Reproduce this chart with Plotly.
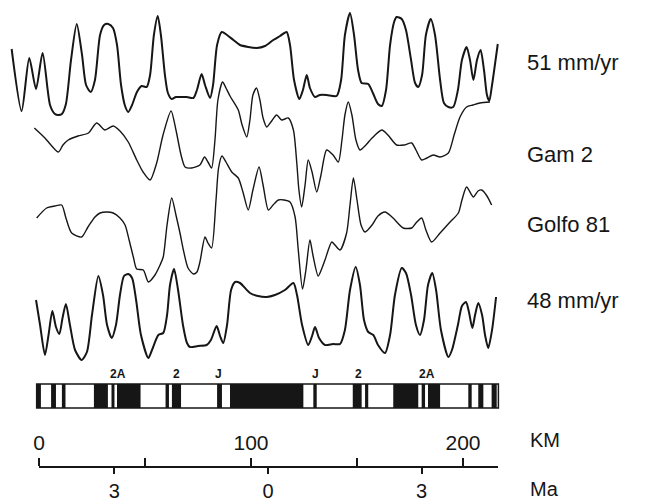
import plotly.graph_objects as go

# ---------------- data (distance in km, anomaly in relative units) ----------------
KM_51 = [-12.9, -8.2, -4.6, -1.4, 1.7, 5.2, 7.5, 9.1, 10.8, 12.7, 15.1, 17.8, 20.3, 22.2, 24.4,
         26.4, 28.8, 30.7, 32.7, 34.9, 36.8, 38.7, 40.6, 42.1, 43.9, 46.2, 48.4, 50.8, 52.4, 54.2,
         56.0, 57.5, 59.4, 60.8, 62.6, 64.6, 67.3, 69.8, 72.8, 74.5, 76.7, 78.3, 80.7, 82.1, 84.0,
         86.2, 88.7, 91.7, 94.8, 98.7, 102.7, 106.6, 110.5, 113.7, 116.8, 118.4, 120.3, 122.8,
         124.5, 126.3, 127.8, 130.2, 132.5, 135.7, 140.4, 142.5, 144.3, 146.7, 148.6, 150.5, 152.2,
         155.3, 157.5, 159.9, 161.7, 163.7, 165.6, 167.5, 168.7, 171.1, 173.1, 175.5, 177.4, 178.9,
         180.7, 182.5, 184.8, 186.8, 189.2, 191.0, 193.1, 195.4, 197.6, 199.5, 201.7, 203.3, 204.9,
         206.6, 208.3, 209.9, 211.3, 212.4, 213.7, 216.4]
VAL_51 = [71, 9, 62, 31, 67, 15, 6, 5, 6, 16, 60, 96, 65, 35, 28,
          40, 85, 95, 96, 92, 75, 35, 14, 8, 15, 28, 34, 33, 45, 85,
          104, 85, 45, 27, 21, 23, 23, 23, 22, 30, 46, 35, 22, 35, 75,
          88, 85, 80, 75, 73, 72, 74, 80, 84, 88, 75, 40, 21,
          30, 45, 32, 23, 25, 25, 24, 40, 85, 107, 85, 50, 37,
          36, 27, 16, 14, 30, 75, 98, 103, 101, 90, 60, 37, 33,
          45, 85, 101, 85, 40, 17, 13, 13, 30, 60, 73, 60, 40,
          60, 70, 50, 25, 19, 35, 76]

KM_GAM = [-2.2, 2.8, 9.1, 11.3, 13.8, 18.4, 23.3, 27.2, 31.1, 35.0, 38.2, 42.1, 46.1, 49.1, 52.4,
          55.5, 58.5, 62.3, 64.6, 67.0, 68.9, 72.0, 75.9, 78.1, 79.7, 81.4, 83.0, 84.4, 86.6, 88.2,
          90.1, 94.0, 95.8, 98.0, 99.5, 100.9, 102.6, 104.2, 105.7, 107.4, 109.4, 112.1, 114.5,
          117.6, 120.0, 121.6, 122.6, 123.9, 125.5, 127.0, 128.8, 131.0, 133.0, 135.7, 138.7,
          141.2, 142.9, 144.3, 145.9, 147.6, 149.5, 151.4, 154.2, 157.1, 161.7, 164.6, 168.7,
          172.2, 175.8, 177.8, 180.5, 183.0, 186.0, 189.2, 193.1, 195.8, 198.6, 201.7, 204.7,
          208.0, 212.7]
VAL_GAM = [87, 77, 63, 70, 75, 79, 82, 92, 85, 89, 84, 73, 55, 43, 35,
           52, 80, 104, 85, 60, 48, 47, 50, 58, 53, 47, 75, 115, 133, 127,
           119, 105, 90, 78, 95, 120, 127, 115, 97, 88, 93, 100, 95,
           97, 85, 52, 25, 8, 30, 55, 43, 23, 40, 65, 60,
           53, 75, 100, 113, 100, 75, 65, 70, 77, 85, 80, 70,
           70, 72, 65, 55, 57, 60, 58, 62, 80, 98, 108, 110,
           112, 113]

KM_GOLFO = [-1.1, 3.6, 7.5, 10.7, 12.7, 15.4, 20.1, 23.1, 26.4, 28.8, 32.1, 35.0, 38.2, 40.6, 42.5,
            44.5, 46.1, 49.2, 51.6, 54.7, 57.1, 58.6, 60.4, 62.6, 64.6, 66.5, 68.1, 70.3, 72.8,
            74.5, 75.9, 78.3, 79.7, 81.4, 83.5, 84.7, 86.3, 88.2, 90.9, 94.0, 96.2, 98.7, 100.9,
            103.8, 105.7, 108.2, 110.4, 112.9, 115.6, 118.4, 120.8, 122.3, 124.3, 125.9, 127.8,
            129.2, 131.7, 133.5, 134.9, 138.1, 139.6, 142.0, 145.1, 146.7, 148.3, 150.0, 151.9,
            153.8, 157.1, 159.9, 163.2, 167.0, 171.8, 175.8, 177.8, 180.5, 182.5, 185.2, 189.2,
            193.9, 197.8, 199.5, 201.7, 204.9, 207.1, 208.8, 211.3, 213.5]
VAL_GOLFO = [82, 92, 94, 95, 82, 67, 63, 73, 83, 87, 88, 87, 82, 75, 60,
             43, 31, 30, 18, 25, 35, 43, 75, 102, 85, 67, 50, 32, 26,
             28, 38, 63, 57, 52, 100, 132, 144, 138, 128, 122, 108, 90, 110,
             133, 115, 90, 95, 100, 100, 98, 83, 50, 11, 30, 60,
             45, 24, 32, 40, 58, 55, 50, 67, 95, 122, 100, 75,
             68, 75, 84, 88, 82, 72, 72, 77, 82, 70, 58, 67,
             78, 87, 100, 113, 103, 109, 110, 104, 95]

KM_48 = [-1.4, 0.5, 2.8, 4.5, 6.3, 8.0, 9.6, 11.1, 12.7, 14.6, 17.0, 20.1, 22.6, 25.0, 28.0,
         30.2, 32.1, 34.3, 36.3, 38.2, 40.1, 42.1, 43.9, 45.8, 48.1, 51.6, 53.3, 56.3, 58.6,
         60.4, 61.8, 63.7, 65.6, 67.9, 69.8, 71.2, 75.0, 79.1, 81.1, 83.8, 85.4, 86.9, 88.7,
         90.6, 92.5, 94.8, 99.5, 103.3, 107.4, 111.3, 116.0, 120.0, 121.7, 124.1, 127.0, 128.8,
         130.2, 132.1, 134.9, 138.7, 142.0, 144.3, 146.7, 149.4, 151.4, 153.3, 155.3, 157.7,
         159.9, 163.2, 165.6, 167.9, 171.1, 173.1, 175.5, 177.8, 179.7, 181.6, 183.5, 185.5,
         187.3, 189.6, 193.1, 194.8, 197.6, 199.5, 201.4, 202.8, 204.4, 205.7, 207.2, 209.0,
         210.4, 211.9, 213.7, 215.6]
VAL_48 = [65, 40, 10, 30, 54, 38, 31, 47, 61, 40, 15, 5, 13, 50, 89,
          70, 40, 27, 40, 70, 89, 91, 87, 65, 30, 7, 15, 30, 32,
          50, 80, 96, 75, 40, 22, 18, 19, 20, 25, 39, 29, 22, 40,
          75, 83, 82, 72, 69, 68, 70, 75, 82, 70, 40, 20, 29,
          38, 27, 20, 21, 21, 35, 75, 98, 80, 45, 33, 30,
          20, 12, 30, 70, 97, 92, 70, 40, 30, 45, 80, 92,
          75, 35, 8, 15, 40, 59, 63, 53, 37, 50, 62, 50,
          30, 17, 35, 68]

# normal-polarity blocks of the model (km)
NORMAL_START = [-1.1, 5.7, 10.8, 25.9, 34.2, 36.8, 59.7, 62.7, 84.0, 90.1, 129.4, 148.0, 153.8,
                167.1, 180.5, 183.5, 202.5, 207.2, 213.5]
NORMAL_END = [0.9, 8.0, 12.5, 32.5, 35.6, 47.9, 61.3, 67.0, 86.3, 124.7, 131.0, 152.2, 155.3,
              178.9, 182.1, 189.2, 204.1, 209.6, 215.9]
BAR_EXTENT_KM = [-1.1, 216.7]

CHRON_LABELS = ["2A", "2", "J", "J", "2", "2A"]
CHRON_KM = [37.3, 65.0, 84.6, 130.2, 150.6, 182.9]

KM_TICKS = [0, 50, 100, 150, 200]
KM_TICK_TEXT = ["0", "", "100", "", "200"]
MA_TICKS = [-3, 0, 3]
MA_TICK_TEXT = ["3", "0", "3"]

PROFILE_NAMES = ["51 mm/yr", "Gam 2", "Golfo 81", "48 mm/yr"]

# ---------------- figure ----------------
W, H = 662, 502
INK = "#161616"
FONT = "Liberation Sans, Arial, Helvetica, sans-serif"

fig = go.Figure()

profiles = [(KM_51, VAL_51, "y", 2.0), (KM_GAM, VAL_GAM, "y2", 1.4),
            (KM_GOLFO, VAL_GOLFO, "y3", 1.4), (KM_48, VAL_48, "y4", 2.0)]
for (xs, ys, ax, lw), name in zip(profiles, PROFILE_NAMES):
    fig.add_trace(go.Scatter(x=xs, y=ys, mode="lines", yaxis=ax, name=name,
                             line=dict(color=INK, width=lw, shape="spline", smoothing=0.7),
                             hoverinfo="skip"))

widths = [e - s for s, e in zip(NORMAL_START, NORMAL_END)]
fig.add_trace(go.Bar(x=widths, base=NORMAL_START, y=[0] * len(widths), orientation="h",
                     yaxis="y5", width=1, marker=dict(color=INK, line=dict(width=0)),
                     hoverinfo="skip"))

fig.add_shape(type="rect", xref="x", yref="y5", x0=BAR_EXTENT_KM[0], x1=BAR_EXTENT_KM[1],
              y0=-0.5, y1=0.5, line=dict(color=INK, width=1.5), fillcolor="rgba(0,0,0,0)")

for lab, xk in zip(CHRON_LABELS, CHRON_KM):
    fig.add_annotation(x=xk, xref="x", y=(H - 374) / H, yref="paper", text="<b>%s</b>" % lab,
                       xanchor="center", yanchor="middle", showarrow=False,
                       font=dict(family=FONT, size=12, color=INK))

label_y = [62, 155, 224, 300]
for name, py in zip(PROFILE_NAMES, label_y):
    fig.add_annotation(x=525 / W, xref="paper", y=(H - py) / H, yref="paper", text=name,
                       xanchor="left", yanchor="middle", showarrow=False,
                       font=dict(family=FONT, size=22, color=INK))
fig.add_annotation(x=528 / W, xref="paper", y=(H - 440) / H, yref="paper", text="KM",
                   xanchor="left", yanchor="middle", showarrow=False,
                   font=dict(family=FONT, size=20, color=INK))
fig.add_annotation(x=528 / W, xref="paper", y=(H - 489) / H, yref="paper", text="Ma",
                   xanchor="left", yanchor="middle", showarrow=False,
                   font=dict(family=FONT, size=20, color=INK))

x_lo = -39 / 2.12
x_hi = x_lo + W / 2.12
line_pos = (H - 467) / H
dom = [39 / W, 498 / W]
ma_px = 51.2

hidden = dict(visible=False, showgrid=False, zeroline=False, fixedrange=True)
bases = {"yaxis": 120, "yaxis2": 215, "yaxis3": 300, "yaxis4": 365}

layout = dict(
    width=W, height=H, margin=dict(l=0, r=0, t=0, b=0, pad=0, autoexpand=False),
    paper_bgcolor="white", plot_bgcolor="rgba(0,0,0,0)", showlegend=False, barmode="overlay",
    font=dict(family=FONT, color=INK),
    xaxis=dict(range=[x_lo, x_hi], domain=[0, 1], **hidden),
    xaxis2=dict(anchor="free", position=line_pos, side="top", domain=dom, automargin=False,
                range=[0, (498 - 39) / 2.12], showline=True, linecolor=INK, linewidth=1.5,
                ticks="outside", ticklen=8, tickwidth=1.5, tickcolor=INK,
                tickvals=KM_TICKS, ticktext=KM_TICK_TEXT, tickfont=dict(size=21, color=INK),
                showgrid=False, zeroline=False, fixedrange=True),
    xaxis3=dict(anchor="free", position=line_pos, side="bottom", domain=dom, automargin=False,
                range=[(39 - 268) / ma_px, (498 - 268) / ma_px], showline=False,
                ticks="outside", ticklen=6, tickwidth=1.5, tickcolor=INK,
                tickvals=MA_TICKS, ticktext=MA_TICK_TEXT, tickfont=dict(size=20, color=INK),
                showgrid=False, zeroline=False, fixedrange=True),
)
# bar axis: 1 unit = 24 px, centre band spans pixels 384-408
layout["yaxis5"] = dict(overlaying="y", range=[0.5 + 384 / 24.0 - H / 24.0, 0.5 + 384 / 24.0],
                        **hidden)
for k, b in bases.items():
    d = dict(range=[b - H, b], **hidden)
    if k != "yaxis":
        d["overlaying"] = "y"
    layout[k] = d

fig.update_layout(**layout)

# empty traces so the two scale axes are drawn
fig.add_trace(go.Scatter(x=[None], y=[None], xaxis="x2", yaxis="y", showlegend=False))
fig.add_trace(go.Scatter(x=[None], y=[None], xaxis="x3", yaxis="y", showlegend=False))

fig.write_html("out.html", config={"displayModeBar": False},
               post_script="document.body.style.margin='0px';"
                           "document.body.style.overflow='hidden';")
